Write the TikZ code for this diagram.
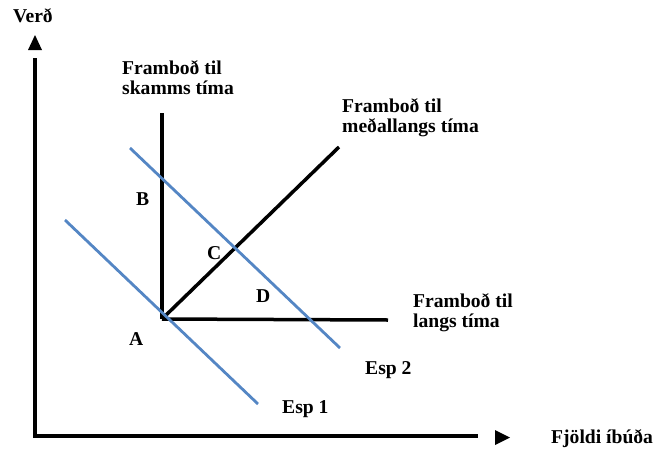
\documentclass[tikz,border=0pt]{standalone}
\usepackage{fontspec}
\setmainfont{Liberation Serif}
\definecolor{espblue}{RGB}{84,134,196}
\begin{document}
\begin{tikzpicture}[x=1pt,y=-1pt,
  lbl/.style={font=\bfseries\fontsize{19.6}{20.5}\selectfont, inner sep=0pt, anchor=base west},
  blk/.style={font=\bfseries\fontsize{19.6}{20.5}\selectfont, inner sep=0pt, anchor=north west, align=left},
  axisline/.style={line width=4pt, line join=miter},
  supply/.style={line width=3.5pt},
  demand/.style={line width=2.8pt, espblue},
  tip/.style={fill=black}]
\useasboundingbox (0,0) rectangle (654,448);
% axes
\coordinate (ytop) at (35,58);
\coordinate (orig) at (35,436);
\coordinate (xend) at (478,436);
\draw[axisline] (ytop) -- (orig) -- (xend);
\fill[tip] (28,50) -- (42,50) -- (35,35) -- cycle;
\fill[tip] (495,430) -- (495,445) -- (510,437.5) -- cycle;
\node[lbl] (verd) at (13,22) {Verð};
\node[lbl] (fjoldi) at (551,443) {Fjöldi íbúða};
% supply curves
\coordinate (A) at (162,319);
\coordinate (srtop) at (162,113);
\coordinate (lrend) at (388,320);
\coordinate (mrend) at (339,147);
\draw[supply] (srtop) -- (A);
\draw[supply] (A) -- (lrend);
\draw[supply] (A) -- (mrend);
% demand curves
\coordinate (e1s) at (65,220);
\coordinate (e1e) at (258,404);
\coordinate (e2s) at (130,148);
\coordinate (e2e) at (340,348);
\draw[demand] (e1s) -- (e1e);
\draw[demand] (e2s) -- (e2e);
% labels
\node[blk] (sr) at (122,60) {Framboð til\\skamms tíma};
\node[blk] (mr) at (342,98) {Framboð til\\meðallangs tíma};
\node[blk] (lr) at (413,293) {Framboð til\\langs tíma};
\node[lbl] (esp2) at (365,374) {Esp 2};
\node[lbl] (esp1) at (282,413) {Esp 1};
\node[lbl] (lA) at (129,345) {A};
\node[lbl] (lB) at (136,205) {B};
\node[lbl] (lC) at (207,259) {C};
\node[lbl] (lD) at (256,302) {D};
\end{tikzpicture}
\end{document}
